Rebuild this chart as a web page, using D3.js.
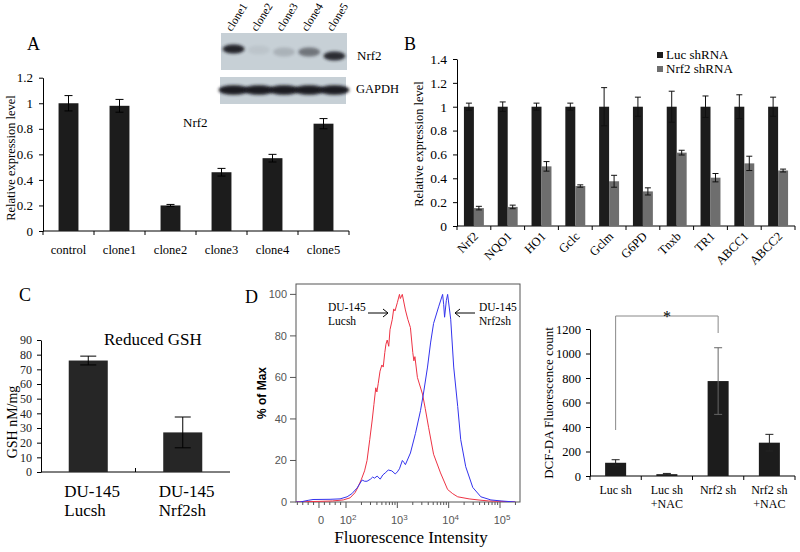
<!DOCTYPE html>
<html><head><meta charset="utf-8">
<script src="https://cdn.jsdelivr.net/npm/d3@7"></script>
<style>body{margin:0;background:#fff;} svg{display:block;}</style>
</head><body><svg id="c" width="800" height="552"></svg>
<script>
// ---------- DATA ----------
const catsA = ["control","clone1","clone2","clone3","clone4","clone5"];
const valsA = [1.0, 0.98, 0.20, 0.46, 0.57, 0.84];
const errsA = [0.06, 0.05, 0.008, 0.03, 0.03, 0.04];
const ticksA = [0, 0.2, 0.4, 0.6, 0.8, 1, 1.2];
const blotLanes = ["clone1","clone2","clone3","clone4","clone5"];
const blotNrf2 = [0.95, 0.06, 0.16, 0.5, 0.9];
const blotGapdh = [1, 1, 1, 1, 1];

const catsB = ["Nrf2","NQO1","HO1","Gclc","Gclm","G6PD","Tnxb","TR1","ABCC1","ABCC2"];
const seriesB = ["Luc shRNA","Nrf2 shRNA"];
const lucB = [1, 1, 1, 1, 1, 1, 1, 1, 1, 1];
const lucErrB = [0.03, 0.04, 0.03, 0.03, 0.16, 0.08, 0.13, 0.09, 0.10, 0.08];
const shB = [0.15, 0.16, 0.50, 0.335, 0.375, 0.29, 0.615, 0.405, 0.525, 0.465];
const shErrB = [0.015, 0.015, 0.04, 0.01, 0.05, 0.03, 0.02, 0.035, 0.06, 0.012];
const ticksB = [0, 0.2, 0.4, 0.6, 0.8, 1, 1.2, 1.4];

const catsC = [["DU-145","Lucsh"],["DU-145","Nrf2sh"]];
const valsC = [76, 27];
const errsC = [3, 10.5];
const ticksC = [0, 10, 20, 30, 40, 50, 60, 70, 80, 90];

// flow histograms: [intensity, % of max]
const flowRed = [[-100,0],[0,0.3],[50,0.5],[90,1],[120,2],[150,4.5],[170,7],[200,11],[230,15],[257,20],[290,30],[324,39.5],[350,47],[380,55],[400,53],[424,57],[460,63],[500,66],[531,65],[570,72],[600,76],[635,78],[680,75],[720,83],[798,88],[850,93],[900,92],[1000,96],[1100,100],[1144,98],[1250,100],[1436,92.5],[1600,88],[1800,84],[2000,72],[2100,68],[2200,70],[2460,60],[3090,52],[3500,45],[4060,36],[5080,23],[6940,14],[9550,6],[12000,4],[15000,2.5],[25000,1.5],[37300,1],[60000,0.5],[105000,0.3],[200000,0]];
const flowBlue = [[-150,0],[-70,0],[-40,0.8],[-22,1.2],[41,1.3],[78,1.5],[105,2.5],[130,4],[164,6.7],[206,10.6],[230,10],[257,10],[300,11],[330,12],[360,11.5],[405,12.5],[464,11],[520,13],[580,14],[666,15.4],[780,15],[912,13.5],[1000,14.5],[1100,16],[1253,20],[1350,19],[1436,18],[1800,23.6],[2254,33],[2825,44],[3240,52.5],[3874,65],[4437,76.6],[5080,86],[6370,94],[7625,100],[8000,95],[8330,89],[9000,97],[9550,100],[10960,88],[12540,65],[15000,46],[17180,30],[21500,17],[29500,7],[42400,2.5],[66500,1],[105000,0.5],[200000,0]];
const flowYTicks = [0, 20, 40, 60, 80, 100];
const flowMajor = [0, 100, 1000, 10000, 100000];
const flowMajorLabels = [["0",""],["10","2"],["10","3"],["10","4"],["10","5"]];
const flowMinor = [-80,-60,-40,-20,20,40,60,80,200,300,400,500,600,700,800,900,2000,3000,4000,5000,6000,7000,8000,9000,20000,30000,40000,50000,60000,70000,80000,90000,200000];

const catsD = [["Luc sh"],["Luc sh","+NAC"],["Nrf2 sh"],["Nrf2 sh","+NAC"]];
const valsD = [108, 15, 775, 272];
const errsD = [25, 6, 272, 68];
const ticksD = [0, 200, 400, 600, 800, 1000, 1200];

// ---------- DRAW ----------
const svg = d3.select("#c");
const serif = "'Liberation Serif','Times New Roman',serif";
const sans = "'Liberation Sans',Arial,sans-serif";
const defs = svg.append("defs");
defs.append("filter").attr("id","blur").attr("x","-50%").attr("y","-50%").attr("width","200%").attr("height","200%")
  .append("feGaussianBlur").attr("stdDeviation",1.6);

function txt(g, x, y, s, size, opts={}) {
  return g.append("text").attr("x",x).attr("y",y).text(s)
    .attr("font-family", opts.family || serif).attr("font-size", size)
    .attr("text-anchor", opts.anchor || "start").attr("fill", opts.fill || "#000")
    .attr("font-weight", opts.weight || "normal");
}
function vlabel(g, x, y, s, size, opts={}) {
  return g.append("text").attr("transform",`translate(${x},${y}) rotate(-90)`).text(s)
    .attr("font-family", opts.family || serif).attr("font-size", size)
    .attr("text-anchor","middle").attr("fill", opts.fill || "#000").attr("font-weight", opts.weight || "normal");
}
function yAxis(g, x, scale, ticks, size, pad, color) {
  const a = g.append("g").attr("transform",`translate(${x},0)`)
    .call(d3.axisLeft(scale).tickValues(ticks).tickSize(4).tickSizeOuter(0).tickPadding(pad).tickFormat(d=>d));
  a.attr("font-family", serif).attr("font-size", size);
  a.selectAll("text").attr("fill", color || "#000").attr("font-family", serif);
  a.selectAll("line,path").attr("stroke","#000");
  return a;
}
function bandAxis(g, xs, y0, tickLen) {
  const [r0, r1] = xs.range();
  g.append("line").attr("x1",r0).attr("x2",r1).attr("y1",y0).attr("y2",y0).attr("stroke","#000");
  d3.range(xs.domain().length + 1).forEach(i => {
    const x = r0 + i * xs.step();
    g.append("line").attr("x1",x).attr("x2",x).attr("y1",y0).attr("y2",y0+tickLen).attr("stroke","#000");
  });
}
function errBar(g, cx, y, v, e, cap, color) {
  const c = color || "#000";
  g.append("line").attr("x1",cx).attr("x2",cx).attr("y1",y(v-e)).attr("y2",y(v+e)).attr("stroke",c);
  [v-e, v+e].forEach(t => g.append("line").attr("x1",cx-cap/2).attr("x2",cx+cap/2).attr("y1",y(t)).attr("y2",y(t)).attr("stroke",c));
}

// ===== Panel A =====
{
  const g = svg.append("g");
  txt(g, 27, 50, "A", 18);
  const x = d3.scaleBand().domain(catsA).range([43, 349]).paddingInner(0.61).paddingOuter(0.305);
  const y = d3.scaleLinear().domain([0, 1.2]).range([231, 77.7]);
  yAxis(g, 43, y, ticksA, 13, 6);
  bandAxis(g, x, 231, 4);
  catsA.forEach((c, i) => {
    g.append("rect").attr("x", x(c)).attr("y", y(valsA[i])).attr("width", x.bandwidth()).attr("height", y(0)-y(valsA[i])).attr("fill","#1c1c1c");
    errBar(g, x(c)+x.bandwidth()/2, y, valsA[i], errsA[i], 8);
    txt(g, x(c)+x.bandwidth()/2, 254, c, 12.5, {anchor:"middle"});
  });
  vlabel(g, 15, 158, "Relative expression level", 12.5);
  txt(g, 183, 127, "Nrf2", 13);

  // western blot
  const bx = d3.scaleBand().domain(blotLanes).range([221, 347]);
  g.append("rect").attr("x",221).attr("y",33).attr("width",126).attr("height",37).attr("fill","#c7d0d6");
  g.append("rect").attr("x",220).attr("y",77).attr("width",126).attr("height",27).attr("fill","#c7d0d6");
  const nrfY = [49, 50, 52, 52, 56];
  blotLanes.forEach((l, i) => {
    const cx = bx(l) + bx.bandwidth()/2;
    g.append("ellipse").attr("cx",cx).attr("cy",nrfY[i]).attr("rx",11).attr("ry",4.5)
      .attr("fill","#1a1a22").attr("opacity",blotNrf2[i]).attr("filter","url(#blur)");
    g.append("ellipse").attr("cx",cx).attr("cy",90).attr("rx",15).attr("ry",4.8)
      .attr("fill","#1a1a22").attr("opacity",blotGapdh[i]).attr("filter","url(#blur)");
    g.append("text").attr("transform",`translate(${cx-2},32) rotate(-58)`).text(l)
      .attr("font-family",serif).attr("font-size",11.5);
  });
  txt(g, 357, 60, "Nrf2", 13);
  txt(g, 356, 93, "GAPDH", 12.5);
}

// ===== Panel B =====
{
  const g = svg.append("g");
  txt(g, 404, 50, "B", 18);
  const x = d3.scaleBand().domain(catsB).range([457, 795]).paddingInner(0.41).paddingOuter(0.205);
  const xs = d3.scaleBand().domain(seriesB).range([0, x.bandwidth()]);
  const y = d3.scaleLinear().domain([0, 1.4]).range([226, 59]);
  const colors = ["#1c1c1c", "#6e6e6e"];
  yAxis(g, 457, y, ticksB, 13.5, 6);
  bandAxis(g, x, 226, 4);
  catsB.forEach((c, i) => {
    [[lucB[i], lucErrB[i]], [shB[i], shErrB[i]]].forEach(([v, e], k) => {
      const bx0 = x(c) + xs(seriesB[k]);
      g.append("rect").attr("x", bx0).attr("y", y(v)).attr("width", xs.bandwidth()).attr("height", y(0)-y(v)).attr("fill", colors[k]);
      errBar(g, bx0 + xs.bandwidth()/2, y, v, e, 6, "#111");
    });
    const cx = x(c) + x.bandwidth()/2;
    g.append("text").attr("transform",`translate(${cx+2},234) rotate(-45)`).attr("dy","0.35em").text(c)
      .attr("font-family",serif).attr("font-size",12.5).attr("text-anchor","end");
  });
  vlabel(g, 423, 144, "Relative expression level", 12.5);
  seriesB.forEach((s, k) => {
    g.append("rect").attr("x",657).attr("y",52 + k*14).attr("width",6).attr("height",6).attr("fill",colors[k]);
    txt(g, 666, 59 + k*14, s, 13);
  });
}

// ===== Panel C =====
{
  const g = svg.append("g");
  txt(g, 19, 301, "C", 18);
  const x = d3.scaleBand().domain([0,1]).range([41, 230]).paddingInner(0.587).paddingOuter(0.2935);
  const y = d3.scaleLinear().domain([0, 90]).range([472, 340]);
  yAxis(g, 41, y, ticksC, 12, 5, "#222");
  g.append("line").attr("x1",41).attr("x2",230).attr("y1",472).attr("y2",472).attr("stroke","#000");
  g.append("line").attr("x1",41 + x.step()).attr("x2",41 + x.step()).attr("y1",472).attr("y2",468).attr("stroke","#000");
  catsC.forEach((c, i) => {
    g.append("rect").attr("x", x(i)).attr("y", y(valsC[i])).attr("width", x.bandwidth()).attr("height", y(0)-y(valsC[i])).attr("fill","#262626");
    const cx = x(i) + x.bandwidth()/2;
    errBar(g, cx, y, valsC[i], errsC[i], 16);
    txt(g, cx-24, 497, c[0], 17);
    txt(g, cx-24, 516, c[1], 17);
  });
  vlabel(g, 17, 422, "GSH nM/mg", 14);
  txt(g, 104, 345, "Reduced GSH", 17);
}

// ===== Panel D (flow) =====
{
  const g = svg.append("g");
  txt(g, 245, 303, "D", 18);
  const X0 = 296, X1 = 520, Y0 = 284, Y1 = 502;
  const lin = d3.scaleLinear().domain([-85, 100]).range([X0, 346]);
  const lg = d3.scaleLog().domain([100, 100000]).range([346, 500]);
  const fx = v => v < 100 ? lin(v) : lg(v);
  const y = d3.scaleLinear().domain([0, 105]).range([Y1, Y0]);
  defs.append("clipPath").attr("id","fclip").append("rect").attr("x",X0).attr("y",Y0).attr("width",X1-X0).attr("height",Y1-Y0);
  g.append("rect").attr("x",X0).attr("y",Y0).attr("width",X1-X0).attr("height",Y1-Y0).attr("fill","none").attr("stroke","#555");
  flowYTicks.forEach(t => {
    g.append("line").attr("x1",X0-6).attr("x2",X0).attr("y1",y(t)).attr("y2",y(t)).attr("stroke","#555");
    txt(g, 287, y(t)+4, t, 11, {family:sans, anchor:"end", fill:"#555"});
  });
  flowMajor.forEach((t, i) => {
    g.append("line").attr("x1",fx(t)).attr("x2",fx(t)).attr("y1",Y1).attr("y2",Y1+6).attr("stroke","#555");
    const tx = g.append("text").attr("x", fx(t) + 2).attr("y", 524).attr("text-anchor","middle")
      .attr("font-family",sans).attr("font-size",11).attr("fill","#555");
    tx.append("tspan").text(flowMajorLabels[i][0]);
    if (flowMajorLabels[i][1]) tx.append("tspan").attr("dy",-4).attr("font-size",8).text(flowMajorLabels[i][1]);
  });
  flowMinor.forEach(t => {
    g.append("line").attr("x1",fx(t)).attr("x2",fx(t)).attr("y1",Y1).attr("y2",Y1+3).attr("stroke","#555");
  });
  const line = d3.line().x(d => fx(d[0])).y(d => y(d[1]));
  const cg = g.append("g").attr("clip-path","url(#fclip)");
  cg.append("path").datum(flowRed).attr("d", line).attr("fill","none").attr("stroke","#ee3344").attr("stroke-width",1);
  cg.append("path").datum(flowBlue).attr("d", line).attr("fill","none").attr("stroke","#3333ee").attr("stroke-width",1);
  vlabel(g, 266, 393, "% of Max", 12, {family:sans, weight:"bold"});
  txt(g, 411, 543, "Fluorescence Intensity", 17, {anchor:"middle"});
  // annotations
  txt(g, 328, 311, "DU-145", 11.5);
  txt(g, 328, 325, "Lucsh", 11.5);
  txt(g, 479, 311, "DU-145", 11.5);
  txt(g, 479, 325, "Nrf2sh", 11.5);
  const arrow = (xa, xb, yy) => {
    g.append("line").attr("x1",xa).attr("x2",xb).attr("y1",yy).attr("y2",yy).attr("stroke","#000");
    const d = xb > xa ? -1 : 1;
    g.append("path").attr("d",`M${xb+d*5},${yy-4}L${xb},${yy}L${xb+d*5},${yy+4}`).attr("fill","none").attr("stroke","#000");
  };
  arrow(368, 388, 313);
  arrow(475, 455, 313);
}

// ===== Panel D (bars) =====
{
  const g = svg.append("g");
  const x = d3.scaleBand().domain(d3.range(catsD.length)).range([590, 795]).paddingInner(0.59).paddingOuter(0.295);
  const y = d3.scaleLinear().domain([0, 1200]).range([476, 329]);
  yAxis(g, 590, y, ticksD, 12.5, 5);
  bandAxis(g, x, 476, 4);
  catsD.forEach((c, i) => {
    g.append("rect").attr("x", x(i)).attr("y", y(valsD[i])).attr("width", x.bandwidth()).attr("height", y(0)-y(valsD[i])).attr("fill","#1c1c1c");
    const cx = x(i) + x.bandwidth()/2;
    errBar(g, cx, y, valsD[i], errsD[i], 8, i===2 ? "#666" : "#222");
    c.forEach((s, k) => txt(g, cx, 494 + k*13.5, s, 12, {anchor:"middle"}));
  });
  vlabel(g, 553, 403, "DCF-DA Fluorescence count", 13);
  // significance bracket
  const xl = x(0) + x.bandwidth()/2, xr = x(2) + x.bandwidth()/2;
  g.append("path").attr("d",`M${xl},430V316H${xr}V333`).attr("fill","none").attr("stroke","#888");
  txt(g, (xl+xr)/2, 322, "*", 16, {anchor:"middle"});
}
</script></body></html>
